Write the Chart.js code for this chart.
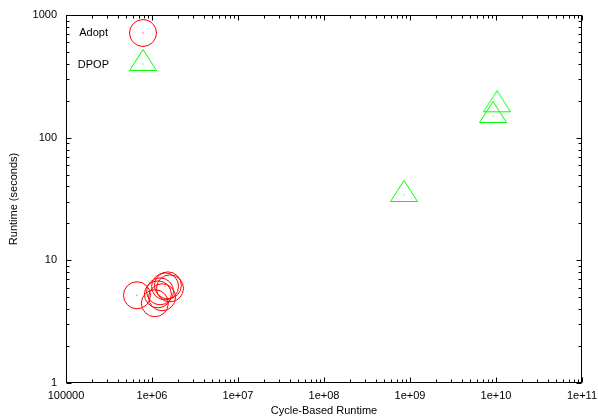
<!DOCTYPE html>
<html><head><meta charset="utf-8">
<script src="https://cdn.jsdelivr.net/npm/chart.js@4/dist/chart.umd.min.js"></script>
<style>html,body{margin:0;padding:0;background:#fff}#wrap{width:598px;height:420px;position:relative}</style>
</head><body><div id="wrap"><canvas id="c"></canvas></div>
<script>
const seriesNames = ['Adopt', 'DPOP'];
const adoptX = [6.69e5, 1.08e6, 1.24e6, 1.42e6, 1.53e6, 1.31e6, 1.17e6, 1.62e6];
const adoptY = [5.19, 4.47, 5.59, 6.13, 6.25, 5.00, 5.28, 5.91];
const dpopX = [8.51e8, 9.22e9, 1.03e10];
const dpopY = [34.1, 150.3, 183.7];
const xTicks = [1e5, 1e6, 1e7, 1e8, 1e9, 1e10, 1e11];
const xTickLabels = ['100000', '1e+06', '1e+07', '1e+08', '1e+09', '1e+10', '1e+11'];
const yTicks = [1, 10, 100, 1000];
const yTickLabels = ['1', '10', '100', '1000'];
const xTitle = 'Cycle-Based Runtime';
const yTitle = 'Runtime (seconds)';

const FONT = '"Liberation Sans", Arial, sans-serif';
const RED = '#ff0000', GREEN = '#00ff00';

function circleImg(color) {
  const c = document.createElement('canvas'); c.width = 30; c.height = 30;
  const g = c.getContext('2d');
  g.strokeStyle = color; g.lineWidth = 1;
  g.beginPath(); g.arc(15, 15, 13.5, 0, Math.PI * 2); g.stroke();
  g.fillStyle = color; g.fillRect(14.5, 14.5, 1, 1);
  return c;
}
function triangleImg(color) {
  const c = document.createElement('canvas'); c.width = 30; c.height = 30;
  const g = c.getContext('2d');
  g.strokeStyle = color; g.lineWidth = 1;
  g.beginPath(); g.moveTo(15, 0.5); g.lineTo(28.5, 21.5); g.lineTo(1.5, 21.5); g.closePath(); g.stroke();
  g.fillStyle = color; g.fillRect(14.5, 14.5, 1, 1);
  return c;
}
const circ = circleImg(RED), tri = triangleImg(GREEN);

const pts = (xs, ys) => xs.map((x, i) => ({ x: x, y: ys[i] }));

const frame = {
  id: 'frame',
  afterDraw(chart) {
    const ctx = chart.ctx, a = chart.chartArea;
    const xs = chart.scales.x, ys = chart.scales.y;
    const L = Math.round(a.left) + 0.5, R = Math.round(a.right) - 0.5;
    const T = Math.round(a.top) + 0.5, B = Math.round(a.bottom) - 0.5;
    ctx.save();
    ctx.strokeStyle = '#000'; ctx.lineWidth = 1;
    ctx.beginPath();
    for (let d = 5; d <= 11; d++) {
      for (let k = 1; k <= 9; k++) {
        const v = k * Math.pow(10, d);
        if (v > 1e11 * 1.0001) break;
        const len = k === 1 ? 5 : 3;
        const px = Math.round(xs.getPixelForValue(v)) + 0.5;
        ctx.moveTo(px, B); ctx.lineTo(px, B - len);
        ctx.moveTo(px, T); ctx.lineTo(px, T + len);
      }
    }
    for (let d = 0; d <= 3; d++) {
      for (let k = 1; k <= 9; k++) {
        const v = k * Math.pow(10, d);
        if (v > 1000 * 1.0001) break;
        const len = k === 1 ? 5 : 3;
        const py = Math.round(ys.getPixelForValue(v)) + 0.5;
        ctx.moveTo(L, py); ctx.lineTo(L + len, py);
        ctx.moveTo(R, py); ctx.lineTo(R - len, py);
      }
    }
    ctx.stroke();
    ctx.strokeRect(L, T, R - L, B - T);
    ctx.fillStyle = '#000';
    ctx.font = '11px ' + FONT;
    ctx.textAlign = 'center'; ctx.textBaseline = 'middle';
    ctx.fillText(xTitle, (a.left + a.right) / 2, 411);
    ctx.save();
    ctx.translate(14, (a.top + a.bottom) / 2);
    ctx.rotate(-Math.PI / 2);
    ctx.fillText(yTitle, 0, 0);
    ctx.restore();
    ctx.textAlign = 'right';
    ctx.fillText(seriesNames[0], 108, 33);
    ctx.fillText(seriesNames[1], 109, 65);
    ctx.drawImage(circ, 143 - 15, 33 - 15);
    ctx.drawImage(tri, 143 - 15, 64 - 15);
    ctx.restore();
  }
};

new Chart(document.getElementById('c'), {
  type: 'scatter',
  data: {
    datasets: [
      { label: seriesNames[0], data: pts(adoptX, adoptY), pointStyle: 'circle', pointRadius: 13.5, pointHoverRadius: 13.5,
        borderWidth: 1, borderColor: RED, backgroundColor: 'rgba(0,0,0,0)' },
      { label: seriesNames[0] + ' centre', data: pts(adoptX, adoptY), pointStyle: 'rect', pointRadius: 0.6, pointHoverRadius: 0.6,
        borderWidth: 0, borderColor: RED, backgroundColor: RED },
      { label: seriesNames[1], data: pts(dpopX, dpopY), pointStyle: tri, pointRadius: 14, pointHoverRadius: 14,
        borderColor: GREEN, backgroundColor: 'rgba(0,0,0,0)' }
    ]
  },
  options: {
    responsive: true, maintainAspectRatio: false, animation: false,
    events: [],
    layout: { padding: { top: 11, right: 16, left: 0, bottom: 0 } },
    plugins: { legend: { display: false }, tooltip: { enabled: false }, title: { display: false } },
    scales: {
      x: {
        type: 'logarithmic', min: 1e5, max: 1e11,
        grid: { display: false, drawTicks: false }, border: { display: false },
        afterBuildTicks: s => { s.ticks = xTicks.map(v => ({ value: v, major: true })); },
        afterFit: s => { s.height = 37; s.paddingLeft = 0; s.paddingRight = 0; },
        ticks: { autoSkip: false, maxRotation: 0, padding: 6, color: '#000', font: { family: FONT, size: 11 },
          callback: (v, i) => xTickLabels[i] }
      },
      y: {
        type: 'logarithmic', min: 1, max: 1000,
        grid: { display: false, drawTicks: false }, border: { display: false },
        afterBuildTicks: s => { s.ticks = yTicks.map(v => ({ value: v, major: true })); },
        afterFit: s => { s.width = 66; s.paddingTop = 0; s.paddingBottom = 0; },
        ticks: { autoSkip: false, padding: 9, color: '#000', font: { family: FONT, size: 11 },
          callback: (v, i) => yTickLabels[i] }
      }
    }
  },
  plugins: [frame]
});
</script>
</body></html>
